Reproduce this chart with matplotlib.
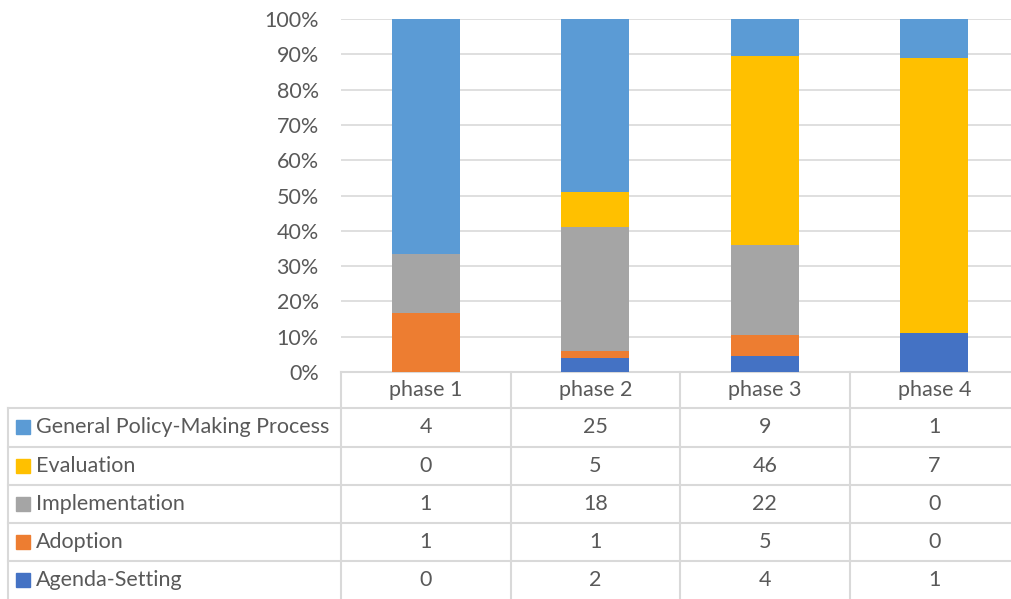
import matplotlib
matplotlib.use("Agg")
import matplotlib.pyplot as plt
import numpy as np
from matplotlib.ticker import PercentFormatter

phases = ["phase 1", "phase 2", "phase 3", "phase 4"]
series = ["Agenda-Setting", "Adoption", "Implementation", "Evaluation", "General Policy-Making Process"]
agenda = [0, 2, 4, 1]
adoption = [1, 1, 5, 0]
implementation = [1, 18, 22, 0]
evaluation = [0, 5, 46, 7]
general = [4, 25, 9, 1]
colors = ["#4472C4", "#ED7D31", "#A5A5A5", "#FFC000", "#5B9BD5"]

values = np.array([agenda, adoption, implementation, evaluation, general], dtype=float)
totals = values.sum(axis=0)
shares = values / totals

plt.rcParams['font.family'] = ['Lato', 'DejaVu Sans']
FS = 15.5
W, H = 1011, 599
fig = plt.figure(figsize=(W / 100, H / 100), dpi=100)

# plot area in pixels
px_left, px_right, px_top, px_bottom = 341, 1019, 19, 372
ax = fig.add_axes([px_left / W, 1 - px_bottom / H, (px_right - px_left) / W, (px_bottom - px_top) / H])
x = np.arange(len(phases))
bottom = np.zeros(len(phases))
for i, name in enumerate(series):
    ax.bar(x, shares[i], bottom=bottom, width=0.4, color=colors[i], zorder=3, label=name)
    bottom += shares[i]
ax.set_xlim(-0.5, 3.5)
ax.set_ylim(0, 1)
ax.set_yticks(np.arange(0, 1.01, 0.1))
ax.yaxis.set_major_formatter(PercentFormatter(1.0, decimals=0))
ax.tick_params(axis='y', length=0, pad=16, labelsize=FS, labelcolor="#595959")
ax.set_xticks([])
ax.grid(axis='y', color="#D9D9D9", linewidth=1.2, zorder=0)
for s in ax.spines.values():
    s.set_visible(False)
ax.patch.set_alpha(0)

# overlay for data table (pixel coordinates)
ov = fig.add_axes([0, 0, 1, 1], zorder=-1)
ov.set_xlim(0, W)
ov.set_ylim(H, 0)
ov.axis('off')
lc = "#D9D9D9"
lw = 1.5
col_w = (px_right - px_left) / len(phases)
row_tops = [408, 446.5, 484.5, 522.5, 560.5, 599]
ov.plot([px_left, px_right], [372, 372], color=lc, lw=lw)
for rt in row_tops[:-1]:
    ov.plot([8, px_right], [rt, rt], color=lc, lw=lw)
ov.plot([8, 8], [408, 599], color=lc, lw=lw)
for j in range(len(phases) + 1):
    xx = px_left + j * col_w
    ov.plot([xx, xx], [372, 599], color=lc, lw=lw)
for j, ph in enumerate(phases):
    ov.text(px_left + (j + 0.5) * col_w, 390, ph, ha='center', va='center', fontsize=FS, color="#595959")
order = list(range(len(series)))[::-1]
for r, i in enumerate(order):
    yc = (row_tops[r] + row_tops[r + 1]) / 2
    ov.add_patch(plt.Rectangle((16, yc - 7), 14, 14, color=colors[i]))
    ov.text(36, yc, series[i], ha='left', va='center', fontsize=FS, color="#595959")
    for j in range(len(phases)):
        ov.text(px_left + (j + 0.5) * col_w, yc, f"{int(values[i, j])}", ha='center', va='center', fontsize=FS, color="#595959")

fig.savefig("out.png", dpi=100)
